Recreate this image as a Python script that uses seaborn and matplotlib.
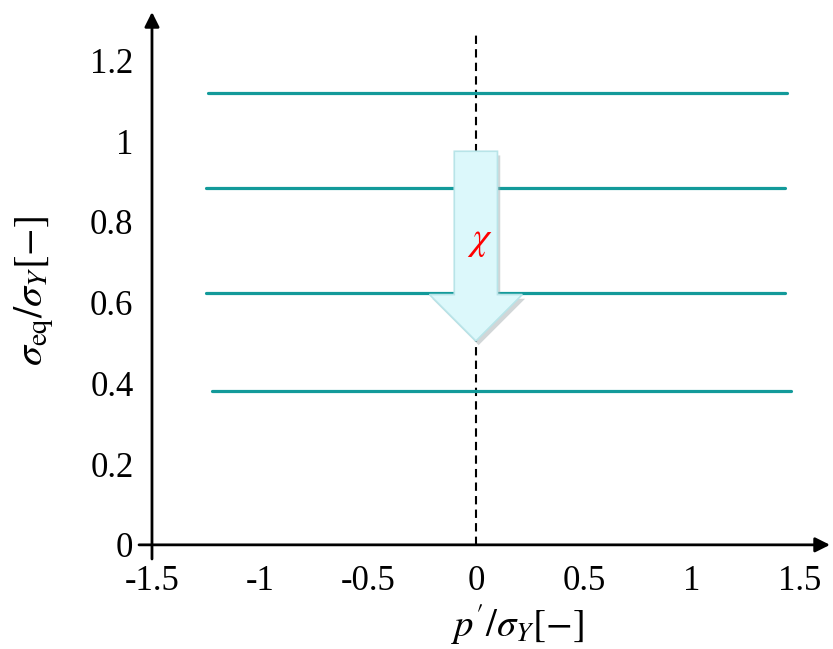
import matplotlib
matplotlib.use('Agg')
import matplotlib.pyplot as plt
import matplotlib.patheffects as pe
from matplotlib.patches import Polygon
import seaborn as sns
import pandas as pd

# data
levels = [1.12, 0.885, 0.625, 0.38]
x_start = [-1.24, -1.25, -1.25, -1.22]
x_end = [1.44, 1.43, 1.43, 1.46]
xticks = [-1.5, -1, -0.5, 0, 0.5, 1, 1.5]
xtick_labels = ['-1.5', '-1', '-0.5', '0', '0.5', '1', '1.5']
yticks = [0, 0.2, 0.4, 0.6, 0.8, 1, 1.2]
ytick_labels = ['0', '0.2', '0.4', '0.6', '0.8', '1', '1.2']

# arrow outline (shaft top, head base, tip) in data units
arrow_half_w = 0.1
head_half_w = 0.215
arrow_top = 0.975
head_base = 0.62
arrow_tip = 0.505

sns.set_theme(style='white')
plt.rcParams['font.family'] = ['Liberation Serif', 'DejaVu Serif']
plt.rcParams['mathtext.fontset'] = 'stix'
plt.rcParams['text.color'] = 'black'
plt.rcParams['xtick.color'] = 'black'
plt.rcParams['ytick.color'] = 'black'
plt.rcParams['axes.labelcolor'] = 'black'

teal = '#139a9a'

fig = plt.figure(figsize=(8.33, 6.49), dpi=100)
ax = fig.add_axes([0.1669, 0.1387, 0.8295, 0.8428])
xlo, xhi = -1.56, 1.64
ylo, yhi = -0.035, 1.32
ax.set_xlim(xlo, xhi)
ax.set_ylim(ylo, yhi)

# horizontal levels
rows = []
for i, (lv, a, b) in enumerate(zip(levels, x_start, x_end)):
    rows.append({'x': a, 'y': lv, 'line': i})
    rows.append({'x': b, 'y': lv, 'line': i})
df = pd.DataFrame(rows)
sns.lineplot(data=df, x='x', y='y', units='line', estimator=None,
             color=teal, linewidth=2.3, ax=ax, zorder=2)

# dashed centre line
ax.plot([0, 0], [0, 1.265], color='black', linestyle=(0, (4, 2.5)),
        linewidth=1.5, zorder=1)

# big down arrow
pts = [(-arrow_half_w, arrow_top), (arrow_half_w, arrow_top),
       (arrow_half_w, head_base), (head_half_w, head_base),
       (0, arrow_tip), (-head_half_w, head_base),
       (-arrow_half_w, head_base)]
arr = Polygon(pts, closed=True, facecolor='#dcf8fb', edgecolor='#b8e4e8',
              linewidth=1.2, zorder=4)
arr.set_path_effects([pe.SimplePatchShadow(offset=(2, -3), shadow_rgbFace='#9aa5a8', alpha=0.45),
                      pe.Normal()])
ax.add_patch(arr)
ax.text(0.02, 0.755, r'$\chi$', color='red', fontsize=28,
        ha='center', va='center', zorder=5)

# axes drawn as arrows
ax.annotate('', xy=(xhi, 0), xytext=(xlo, 0),
            arrowprops=dict(arrowstyle='-|>', color='black', lw=2,
                            mutation_scale=22, shrinkA=0, shrinkB=0))
ax.annotate('', xy=(-1.5, yhi), xytext=(-1.5, ylo),
            arrowprops=dict(arrowstyle='-|>', color='black', lw=2,
                            mutation_scale=22, shrinkA=0, shrinkB=0))

for s in ax.spines.values():
    s.set_visible(False)
ax.set_xticks(xticks)
ax.set_xticklabels(xtick_labels)
ax.set_yticks(yticks)
ax.set_yticklabels(ytick_labels)
ax.tick_params(axis='both', length=0, labelsize=25)
ax.tick_params(axis='x', pad=4)
ax.tick_params(axis='y', pad=4)
ax.grid(False)

ax.set_xlabel(r"$p'/\sigma_Y[-]$", fontsize=28)
ax.set_ylabel(r"$\sigma_{\mathrm{eq}}/\sigma_Y[-]$", fontsize=29)
ax.xaxis.set_label_coords(0.547, -0.08)
ax.yaxis.set_label_coords(-0.12, 0.49)

fig.savefig('out.png', dpi=100)
